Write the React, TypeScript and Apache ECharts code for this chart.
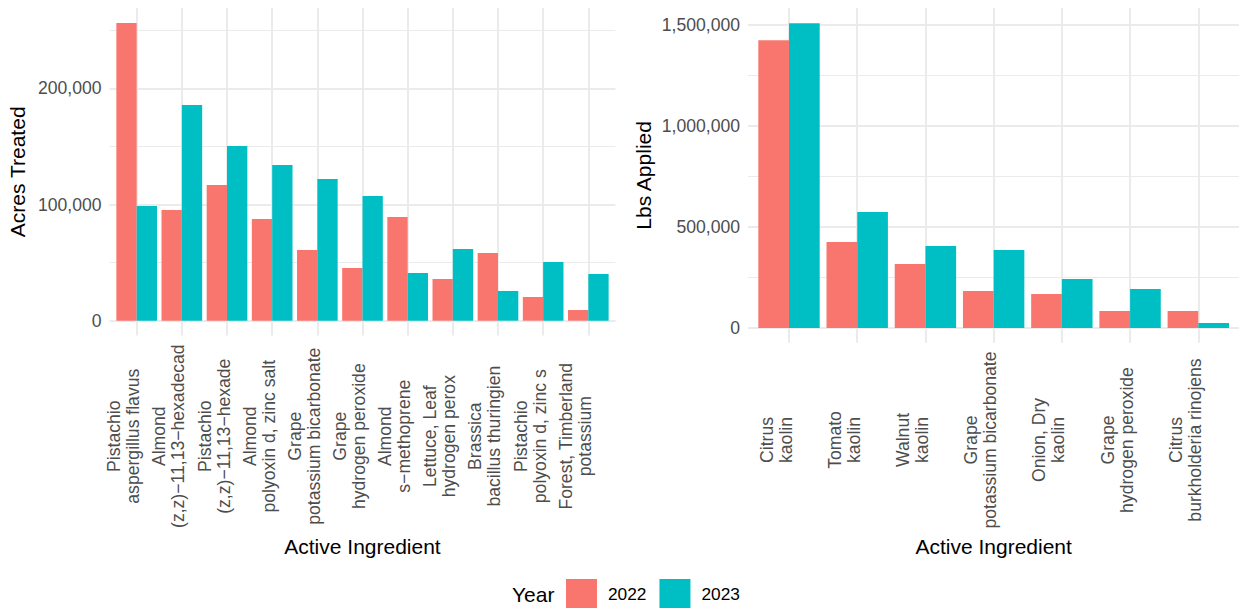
import React, { useEffect, useRef } from 'react';
import * as echarts from 'echarts';

// ---------- data ----------
const years = ['2022', '2023'];
const yearColors = ['#F8766D', '#00BFC4'];

const leftCategories = [
  'Pistachio\naspergillus flavus',
  'Almond\n(z,z)\u221211,13\u2212hexadecad',
  'Pistachio\n(z,z)\u221211,13\u2212hexade',
  'Almond\npolyoxin d, zinc salt',
  'Grape\npotassium bicarbonate',
  'Grape\nhydrogen peroxide',
  'Almond\ns\u2212methoprene',
  'Lettuce, Leaf\nhydrogen perox',
  'Brassica\nbacillus thuringien',
  'Pistachio\npolyoxin d, zinc s',
  'Forest, Timberland\npotassium',
];
const leftAcres2022 = [256400, 95300, 116900, 87600, 60900, 45400, 89300, 35900, 58300, 20400, 9200];
const leftAcres2023 = [98800, 185800, 150500, 134100, 122000, 107400, 41100, 61800, 25600, 50600, 40200];

const rightCategories = [
  'Citrus\nkaolin',
  'Tomato\nkaolin',
  'Walnut\nkaolin',
  'Grape\npotassium bicarbonate',
  'Onion, Dry\nkaolin',
  'Grape\nhydrogen peroxide',
  'Citrus\nburkholderia rinojens',
];
const rightLbs2022 = [1422400, 424800, 316000, 182700, 168000, 84000, 84000];
const rightLbs2023 = [1506400, 573000, 405000, 385000, 242000, 192600, 24700];

const leftTicks = { major: 100000, minor: 50000 };
const rightTicks = { major: 500000, minor: 250000 };

// ---------- style ----------
const FONT = '"Liberation Sans", Arial, Helvetica, sans-serif';
const GRID_COLOR = '#EBEBEB';
const TICK_TEXT = '#4D4D4D';

const fmt = (v: number) => Math.round(v).toLocaleString('en-US');

function panel(
  idx: number,
  cats: string[],
  v2022: number[],
  v2023: number[],
  ticks: { major: number; minor: number },
  geo: { outerLeft: number; outerRight: number; innerLeft: number; innerWidth: number; top: number; zeroY: number; extend: number; labelMargin: number; xNameGap: number; yNameGap: number },
  yName: string
) {
  const yMax = Math.max(...v2022, ...v2023) * 1.05;
  const height = geo.zeroY - geo.top;
  const gA = idx * 2;
  const gB = idx * 2 + 1;
  const grids = [
    { left: geo.outerLeft, width: geo.outerRight - geo.outerLeft, top: geo.top, height },
    { left: geo.innerLeft, width: geo.innerWidth, top: geo.top, height },
  ];
  const xBase = idx * 3;
  const yBase = idx * 3;
  const gridlineCats = Array.from({ length: cats.length * 2 + 1 }, (_, i) => 'g' + i);
  // shift of the y title centre so that it sits on the middle of the whole panel
  const yNameShift = geo.extend;
  const xAxes = [
    { type: 'value', gridIndex: gA, min: 0, max: 1, show: false },
    {
      type: 'category',
      gridIndex: gB,
      position: 'bottom',
      data: cats,
      axisLine: { show: false },
      axisTick: { show: false },
      splitLine: { show: false },
      axisLabel: {
        interval: 0,
        rotate: 90,
        align: 'center',
        verticalAlign: 'bottom',
        padding: [0, 0, -6, 0],
        margin: geo.labelMargin,
        lineHeight: 19,
        fontSize: 17.6,
        color: TICK_TEXT,
        fontFamily: FONT,
      },
      name: 'Active Ingredient',
      nameLocation: 'middle',
      nameGap: geo.xNameGap,
      nameTextStyle: { fontSize: 21, color: '#000', fontFamily: FONT },
    },
    {
      type: 'category',
      gridIndex: gB,
      position: 'bottom',
      boundaryGap: false,
      data: gridlineCats,
      axisLine: { show: false },
      axisLabel: { show: false },
      axisTick: {
        show: true,
        inside: false,
        length: geo.extend,
        interval: (i: number) => i % 2 === 1,
        lineStyle: { color: GRID_COLOR, width: 2 },
      },
      splitLine: {
        show: true,
        interval: (i: number) => i % 2 === 1,
        lineStyle: { color: GRID_COLOR, width: 2 },
      },
    },
  ];
  const yAxes = [
    {
      type: 'value',
      gridIndex: gA,
      position: 'left',
      min: 0,
      max: yMax,
      interval: ticks.major,
      axisLine: { show: false },
      axisTick: { show: false },
      axisLabel: {
        formatter: (v: number) => fmt(v),
        showMaxLabel: false,
        margin: 8,
        fontSize: 17.6,
        color: TICK_TEXT,
        fontFamily: FONT,
      },
      splitLine: { show: true, showMaxLine: false, lineStyle: { color: GRID_COLOR, width: 2 } },
      name: yName,
      nameLocation: 'middle',
      nameGap: geo.yNameGap,
      nameTextStyle: { fontSize: 21, color: '#000', fontFamily: FONT, padding: [0, yNameShift, 0, 0] },
    },
    {
      type: 'value',
      gridIndex: gA,
      position: 'left',
      min: 0,
      max: yMax,
      interval: ticks.minor,
      axisLine: { show: false },
      axisTick: { show: false },
      axisLabel: { show: false },
      splitLine: { show: true, showMaxLine: false, lineStyle: { color: GRID_COLOR, width: 1 } },
      z: -1,
    },
    { type: 'value', gridIndex: gB, min: 0, max: yMax, show: false },
  ];
  const series = [v2022, v2023].map((vals, k) => ({
    type: 'bar',
    name: years[k],
    xAxisIndex: xBase + 1,
    yAxisIndex: yBase + 2,
    data: vals,
    barGap: '0%',
    barCategoryGap: '10%',
    itemStyle: { color: yearColors[k] },
    emphasis: { disabled: true },
  }));
  return { grids, xAxes, yAxes, series };
}

export default function App() {
  const ref = useRef<HTMLDivElement>(null);
  useEffect(() => {
    if (!ref.current) return;
    const chart = echarts.init(ref.current, undefined, { renderer: 'svg' });
    const L = panel(0, leftCategories, leftAcres2022, leftAcres2023, leftTicks, {
      outerLeft: 109.6,
      outerRight: 615.4,
      innerLeft: 114.1,
      innerWidth: 496.8,
      top: 8,
      zeroY: 320.7,
      extend: 14.9,
      labelMargin: 115.5,
      xNameGap: 212.5,
      yNameGap: 81.5,
    }, 'Acres Treated');
    const R = panel(1, rightCategories, rightLbs2022, rightLbs2023, rightTicks, {
      outerLeft: 748.1,
      outerRight: 1239,
      innerLeft: 754.9,
      innerWidth: 477.5,
      top: 8,
      zeroY: 328,
      extend: 14.8,
      labelMargin: 112,
      xNameGap: 205,
      yNameGap: 94,
    }, 'Lbs Applied');
    chart.setOption({
      animation: false,
      backgroundColor: '#FFFFFF',
      textStyle: { fontFamily: FONT },
      grid: [...L.grids, ...R.grids],
      xAxis: [...L.xAxes, ...R.xAxes],
      yAxis: [...L.yAxes, ...R.yAxes],
      series: [...L.series, ...R.series],
      legend: {
        data: years.map((y) => ({ name: y, icon: 'rect' })),
        left: 566,
        top: 579,
        padding: 0,
        itemWidth: 31,
        itemHeight: 29,
        itemGap: 13,
        selectedMode: false,
        textStyle: { fontSize: 17.3, color: '#000', fontFamily: FONT, padding: [0, 0, 0, 6] },
      },
      graphic: [
        {
          type: 'text',
          x: 512,
          y: 594,
          style: { text: 'Year', fontSize: 21, fill: '#000', fontFamily: FONT, verticalAlign: 'middle', align: 'left' },
        },
      ],
    });
    return () => chart.dispose();
  }, []);
  return (
    <div
      ref={ref}
      style={{ position: 'absolute', left: 0, top: 0, width: 1239, height: 608 }}
    />
  );
}
